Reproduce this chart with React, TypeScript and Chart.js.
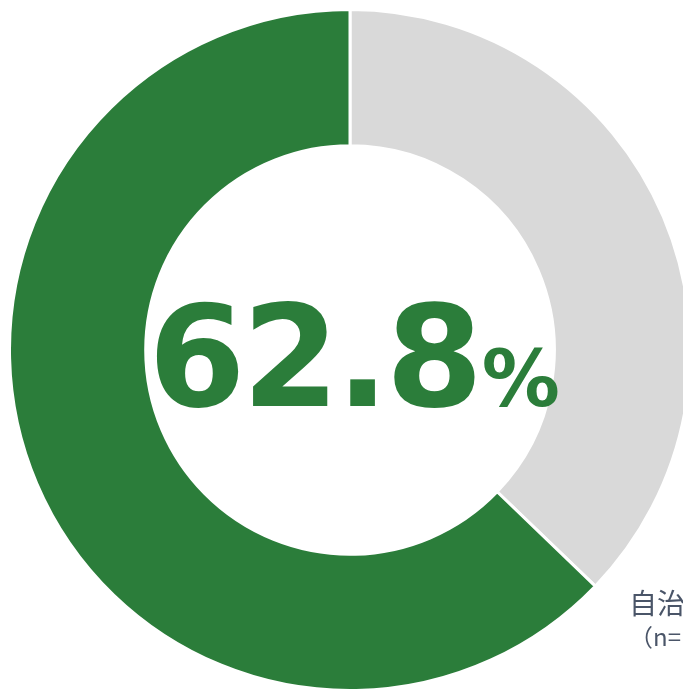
import React, { useEffect, useRef } from "react";
import { Chart, registerables } from "chart.js";

Chart.register(...registerables);

const categories = ["その他", "該当"];
const values = [37.2, 62.8];
const colors = ["#d9d9d9", "#2b7d3a"];
const centerValue = "62.8";
const captionLines = ["自治体", "（n=1,741）"];

export default function App() {
  const ref = useRef<HTMLCanvasElement>(null);
  useEffect(() => {
    document.documentElement.style.overflow = "hidden";
    const chart = new Chart(ref.current!, {
      type: "doughnut",
      data: {
        labels: categories,
        datasets: [
          {
            data: values,
            backgroundColor: colors,
            borderColor: "#ffffff",
            borderWidth: 3,
          },
        ],
      },
      options: {
        responsive: false,
        animation: false,
        cutout: "60%",
        layout: { padding: 0 },
        plugins: { legend: { display: false }, tooltip: { enabled: false } },
      },
    });
    return () => chart.destroy();
  }, []);
  return (
    <div style={{ position: "fixed", left: 8, top: 8, width: 720, height: 684 }}>
      <canvas ref={ref} width={684} height={684} style={{ display: "block" }} />
      <div
        style={{
          position: "absolute",
          left: 4,
          top: 280,
          width: 684,
          textAlign: "center",
          fontFamily: "'DejaVu Sans', sans-serif",
          fontWeight: "bold",
          color: "#2b7d3a",
          lineHeight: 1,
          whiteSpace: "nowrap",
        }}
      >
        <span style={{ fontSize: 140, letterSpacing: -3.5 }}>{centerValue}</span>
        <span style={{ fontSize: 78, marginLeft: 2 }}>%</span>
      </div>
      <div
        style={{
          position: "absolute",
          left: 621,
          top: 577,
          fontFamily: "'Noto Sans CJK JP', sans-serif",
          color: "#4a5568",
          whiteSpace: "nowrap",
          lineHeight: 1.28,
        }}
      >
        <div style={{ fontSize: 28 }}>{captionLines[0]}</div>
        <div style={{ fontSize: 24 }}>{captionLines[1]}</div>
      </div>
    </div>
  );
}
